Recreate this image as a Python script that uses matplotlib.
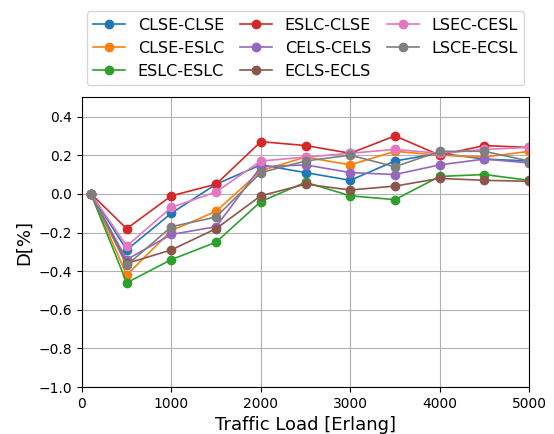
import matplotlib
matplotlib.use("Agg")
import matplotlib.pyplot as plt
import numpy as np

loads = [100, 500, 1000, 1500, 2000, 2500, 3000, 3500, 4000, 4500, 5000]
names = ["CLSE-CLSE", "CLSE-ESLC", "ESLC-ESLC", "ESLC-CLSE",
         "CELS-CELS", "ECLS-ECLS", "LSEC-CESL", "LSCE-ECSL"]
clse_clse = [0, -0.29, -0.10, 0.05, 0.15, 0.11, 0.07, 0.17, 0.21, 0.18, 0.17]
clse_eslc = [0, -0.42, -0.19, -0.09, 0.12, 0.19, 0.15, 0.22, 0.20, 0.19, 0.22]
eslc_eslc = [0, -0.46, -0.34, -0.25, -0.04, 0.06, -0.01, -0.03, 0.09, 0.10, 0.07]
eslc_clse = [0, -0.18, -0.01, 0.05, 0.27, 0.25, 0.21, 0.30, 0.20, 0.25, 0.24]
cels_cels = [0, -0.34, -0.21, -0.17, 0.14, 0.15, 0.11, 0.10, 0.15, 0.18, 0.16]
ecls_ecls = [0, -0.36, -0.29, -0.18, -0.01, 0.05, 0.02, 0.04, 0.08, 0.07, 0.065]
lsec_cesl = [0, -0.27, -0.07, 0.01, 0.17, 0.19, 0.21, 0.23, 0.21, 0.23, 0.24]
lsce_ecsl = [0, -0.37, -0.17, -0.12, 0.11, 0.17, 0.20, 0.14, 0.22, 0.22, 0.17]
series = [clse_clse, clse_eslc, eslc_eslc, eslc_clse,
          cels_cels, ecls_ecls, lsec_cesl, lsce_ecsl]

fig = plt.figure(figsize=(5.54, 4.34), dpi=100)
ax = fig.add_axes([0.148, 0.108, 0.807, 0.668])
for name, vals in zip(names, series):
    ax.plot(loads, vals, marker="o", markersize=6, linewidth=1.2, label=name)
ax.set_xlim(0, 5000)
ax.set_ylim(-1.0, 0.5)
ax.set_yticks(np.arange(-1.0, 0.41, 0.2))
ax.set_xticks([0, 1000, 2000, 3000, 4000, 5000])
ax.grid(True)
ax.set_xlabel("Traffic Load [Erlang]", fontsize=13)
ax.set_ylabel("D[%]", fontsize=13)
ax.legend(ncol=3, loc="lower center", bbox_to_anchor=(0.5, 1.0),
          fontsize=11.5, columnspacing=1.0, handlelength=2.0,
          labelspacing=0.5, borderaxespad=0.75)
fig.savefig("out.png", dpi=100)
